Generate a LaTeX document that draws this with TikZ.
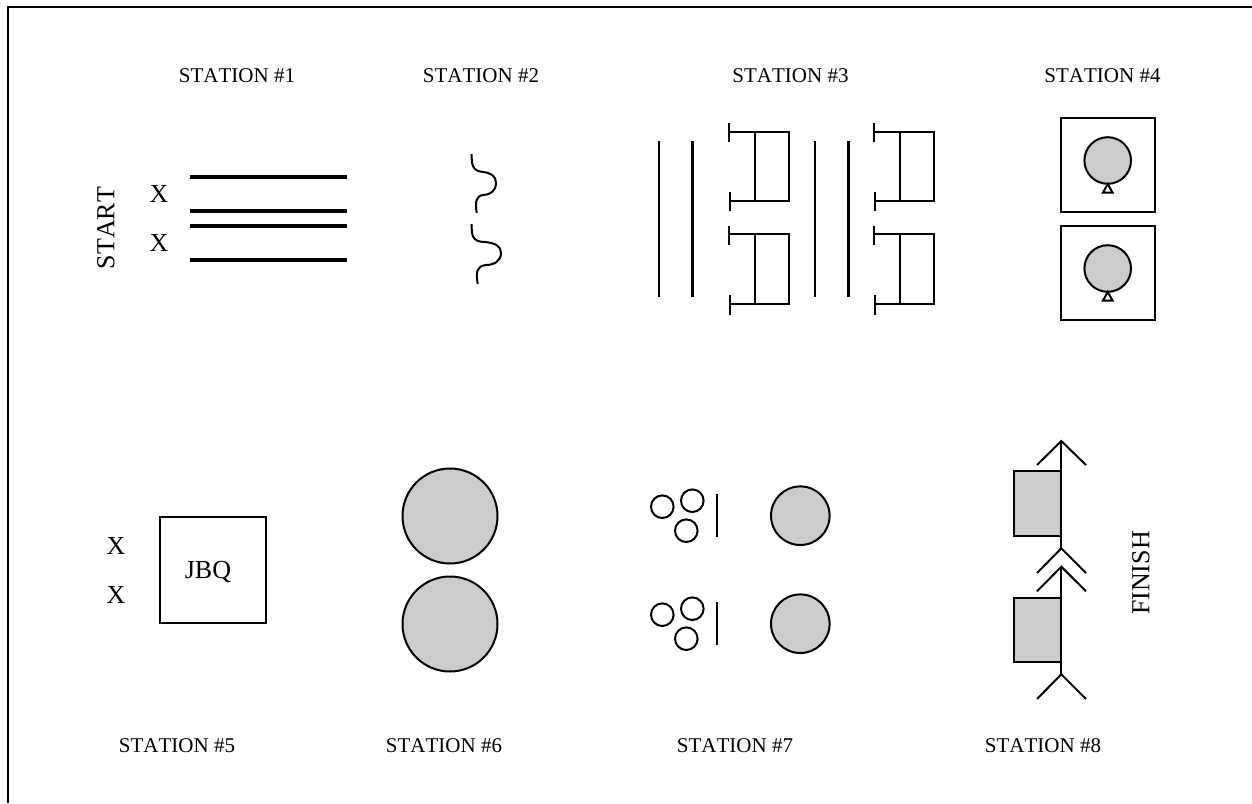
\documentclass[tikz,border=0pt]{standalone}
\usepackage{fontspec}
\setmainfont[Kerning=Off]{Liberation Serif}
\tikzset{
  stationlbl/.style={font=\fontsize{15.75pt}{18pt}\selectfont, inner sep=0pt},
  biglbl/.style={font=\fontsize{19.5pt}{23pt}\selectfont, inner sep=0pt},
  frameline/.style={line width=1.6pt},
  barline/.style={line width=2.3pt},
  thinline/.style={line width=1.5pt},
  thickline/.style={line width=2.6pt},
  outline/.style={line width=1.5pt},
  graybody/.style={line width=1.5pt, fill=black!20}
}

\begin{document}
\begin{tikzpicture}[x=0.75pt,y=-0.75pt]
  \useasboundingbox (0,0) rectangle (1252,803);

  % Outer frame
  \draw[frameline] (8,803) -- (8,7) -- (1252,7);

  % Station labels
  \node[stationlbl] (st1) at (237,75.5) {STATION \#1};
  \node[stationlbl] (st2) at (481,75.5) {STATION \#2};
  \node[stationlbl] (st3) at (790.5,75.5) {STATION \#3};
  \node[stationlbl] (st4) at (1102.5,75.5) {STATION \#4};
  \node[stationlbl] (st5) at (177,745.5) {STATION \#5};
  \node[stationlbl] (st6) at (444,745.5) {STATION \#6};
  \node[stationlbl] (st7) at (735,745.5) {STATION \#7};
  \node[stationlbl] (st8) at (1043,745.5) {STATION \#8};

  \node[biglbl, rotate=90] (start) at (106,228) {START};
  \node[biglbl, rotate=90] (finish) at (1141,573) {FINISH};

  % Station 1
  \node[biglbl] (x1) at (159,194) {X};
  \node[biglbl] (x2) at (159,243) {X};
  \draw[barline] (190,177) -- (347,177);
  \draw[barline] (190,211) -- (347,211);
  \draw[barline] (190,226) -- (347,226);
  \draw[barline] (190,260) -- (347,260);

  % Station 2
  \draw[outline] (471.7,154) .. controls (471.5,164) and (472,171) .. (483,172)
    .. controls (491,173) and (496,176) .. (496,183)
    .. controls (496,191) and (490,195) .. (483,195)
    .. controls (476,196) and (475,202) .. (476.7,213);
  \draw[outline] (471.7,224) .. controls (471.5,235) and (472,242) .. (485,242)
    .. controls (495,243) and (501,246) .. (501,253)
    .. controls (501,261) and (494,265) .. (486,265)
    .. controls (476,266) and (476,273) .. (477.7,284);

  % Station 3
  \draw[thinline] (659,141) -- (659,297);
  \draw[thickline] (692.5,141) -- (692.5,297);
  \draw[thinline] (815,141) -- (815,297);
  \draw[thickline] (848.5,141) -- (848.5,297);

  \draw[outline] (729,131.5) -- (789,131.5) -- (789,201) -- (730,201);
  \draw[outline] (755,131.5) -- (755,201);
  \draw[outline] (729,123) -- (729,142);
  \draw[outline] (730,192) -- (730,211);

  \draw[outline] (729,234) -- (789,234) -- (789,304) -- (730,304);
  \draw[outline] (755,234) -- (755,304);
  \draw[outline] (729,226) -- (729,245);
  \draw[outline] (730,295) -- (730,315);

  \draw[outline] (874,131.5) -- (934,131.5) -- (934,201) -- (875,201);
  \draw[outline] (900,131.5) -- (900,201);
  \draw[outline] (874,123) -- (874,142);
  \draw[outline] (875,192) -- (875,211);

  \draw[outline] (874,234) -- (934,234) -- (934,304) -- (875,304);
  \draw[outline] (900,234) -- (900,304);
  \draw[outline] (874,226) -- (874,245);
  \draw[outline] (875,295) -- (875,315);

  % Station 4
  \draw[outline] (1060.7,117.5) rectangle (1155,211.7);
  \draw[graybody] (1107.7,160.5) circle (23.3);
  \draw[outline] (1107.7,184) -- (1103,192.5) -- (1112.5,192.5) -- cycle;
  \draw[outline] (1060.7,226) rectangle (1155,320);
  \draw[graybody] (1107.7,268.5) circle (23.3);
  \draw[outline] (1107.7,292) -- (1103,300.5) -- (1112.5,300.5) -- cycle;

  % Station 5
  \node[biglbl] (x3) at (116,546) {X};
  \node[biglbl] (x4) at (116,595) {X};
  \draw[outline] (159.5,517) rectangle (266,623);
  \node[biglbl, anchor=base] (jbq) at (208,578.3) {JBQ};

  % Station 6
  \draw[graybody] (450,516) circle (47.5);
  \draw[graybody] (450,624) circle (47.5);

  % Station 7
  \draw[outline] (662.3,506.7) circle (11.3);
  \draw[outline] (692.3,500.7) circle (11.3);
  \draw[outline] (686.3,530.7) circle (11.3);
  \draw[outline] (717.3,494) -- (717.3,537.3);
  \draw[graybody] (800.3,515.7) circle (29.3);

  \draw[outline] (662.3,614.7) circle (11.3);
  \draw[outline] (692.3,608.7) circle (11.3);
  \draw[outline] (686.3,638.7) circle (11.3);
  \draw[outline] (717.3,602) -- (717.3,645.3);
  \draw[graybody] (800.3,623.7) circle (29.3);

  % Station 8
  \draw[graybody] (1014,471.3) rectangle (1060.7,536);
  \draw[graybody] (1014,597.7) rectangle (1060.7,662);
  \draw[outline] (1061.3,441) -- (1061.3,548.3);
  \draw[outline] (1061.3,566.7) -- (1061.3,674.3);
  \draw[outline] (1037,465) -- (1061.3,441) -- (1086,465);
  \draw[outline] (1037,573) -- (1061.3,548.3) -- (1086,573);
  \draw[outline] (1037,591.3) -- (1061.3,566.7) -- (1086,591.3);
  \draw[outline] (1037,699) -- (1061.3,674.3) -- (1086,699);
\end{tikzpicture}
\end{document}
